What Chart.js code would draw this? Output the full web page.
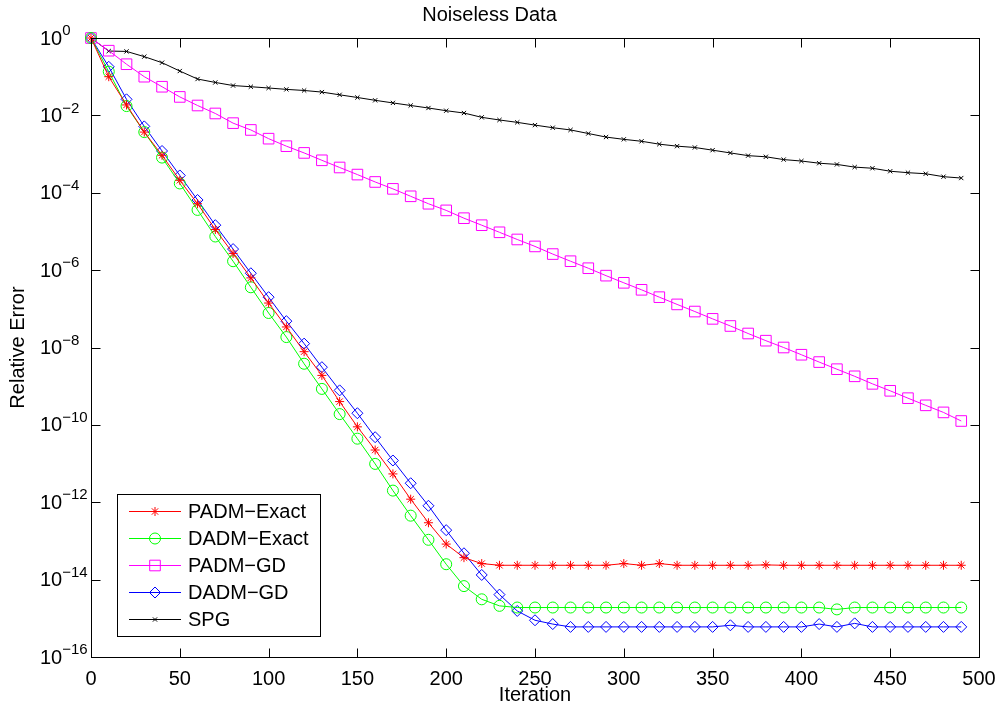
<!DOCTYPE html>
<html>
<head>
<meta charset="utf-8">
<title>Noiseless Data</title>
<script src="https://cdn.jsdelivr.net/npm/chart.js@4.4.1/dist/chart.umd.min.js"></script>
<style>
  body { margin: 0; background: #fff; }
  canvas { display: block; }
</style>
</head>
<body>
<canvas id="myChart" width="1001" height="708"></canvas>
<script>
// Datos (error relativo cada 10 iteraciones)
const iteraciones = [0, 10, 20, 30, 40, 50, 60, 70, 80, 90,
  100, 110, 120, 130, 140, 150, 160, 170, 180, 190,
  200, 210, 220, 230, 240, 250, 260, 270, 280, 290,
  300, 310, 320, 330, 340, 350, 360, 370, 380, 390,
  400, 410, 420, 430, 440, 450, 460, 470, 480, 490];

const padmExact = [1, 1.0e-1, 1.86e-2, 3.7e-3, 9.3e-4, 2.1e-4, 5.2e-5, 1.12e-5, 2.7e-6, 6.3e-7,
  1.41e-7, 3.4e-8, 7.8e-9, 1.9e-9, 4.0e-10, 8.9e-11, 2.24e-11, 5.4e-12, 1.2e-12, 2.95e-13,
  8.3e-14, 3.7e-14, 2.6e-14, 2.35e-14, 2.35e-14, 2.35e-14, 2.35e-14, 2.35e-14, 2.35e-14, 2.35e-14,
  2.6e-14, 2.35e-14, 2.6e-14, 2.35e-14, 2.35e-14, 2.35e-14, 2.35e-14, 2.35e-14, 2.4e-14, 2.35e-14,
  2.35e-14, 2.35e-14, 2.35e-14, 2.35e-14, 2.35e-14, 2.35e-14, 2.35e-14, 2.35e-14, 2.35e-14, 2.35e-14];

const dadmExact = [1, 1.35e-1, 1.74e-2, 3.7e-3, 8.1e-4, 1.74e-4, 3.6e-5, 7.4e-6, 1.7e-6, 3.6e-7,
  7.8e-8, 1.86e-8, 3.8e-9, 8.5e-10, 1.9e-10, 4.4e-11, 9.8e-12, 2.0e-12, 4.5e-13, 1.07e-13,
  2.5e-14, 6.8e-15, 3.1e-15, 2.1e-15, 1.9e-15, 1.9e-15, 1.9e-15, 1.9e-15, 1.9e-15, 1.9e-15,
  1.9e-15, 1.9e-15, 1.9e-15, 1.9e-15, 1.9e-15, 1.9e-15, 1.9e-15, 1.9e-15, 1.9e-15, 1.9e-15,
  1.9e-15, 1.9e-15, 1.7e-15, 1.9e-15, 1.9e-15, 1.9e-15, 1.9e-15, 1.9e-15, 1.9e-15, 1.9e-15];

const padmGd = [1, 4.7e-1, 2.1e-1, 1.0e-1, 5.5e-2, 3.0e-2, 1.8e-2, 1.12e-2, 6.3e-3, 4.2e-3,
  2.5e-3, 1.6e-3, 1.07e-3, 6.9e-4, 4.5e-4, 2.95e-4, 1.9e-4, 1.26e-4, 8.1e-5, 5.2e-5,
  3.5e-5, 2.2e-5, 1.45e-5, 9.5e-6, 6.2e-6, 4.1e-6, 2.6e-6, 1.7e-6, 1.12e-6, 7.2e-7,
  4.7e-7, 3.1e-7, 2.0e-7, 1.3e-7, 8.5e-8, 5.5e-8, 3.6e-8, 2.3e-8, 1.5e-8, 1.0e-8,
  6.5e-9, 4.2e-9, 2.75e-9, 1.8e-9, 1.15e-9, 7.6e-10, 4.9e-10, 3.2e-10, 2.1e-10, 1.26e-10];

const dadmGd = [1, 1.8e-1, 2.6e-2, 5.2e-3, 1.2e-3, 2.8e-4, 6.5e-5, 1.45e-5, 3.5e-6, 8.3e-7,
  2.0e-7, 4.8e-8, 1.26e-8, 3.1e-9, 7.8e-10, 2.0e-10, 4.8e-11, 1.2e-11, 3.1e-12, 8.1e-13,
  1.9e-13, 4.8e-14, 1.32e-14, 4.1e-15, 1.55e-15, 8.9e-16, 7.1e-16, 6.0e-16, 6.0e-16, 6.0e-16,
  6.0e-16, 6.0e-16, 6.0e-16, 6.0e-16, 6.0e-16, 6.0e-16, 6.6e-16, 6.0e-16, 6.0e-16, 6.0e-16,
  6.0e-16, 7.1e-16, 6.0e-16, 7.4e-16, 6.0e-16, 6.0e-16, 6.0e-16, 6.0e-16, 6.0e-16, 6.0e-16];

const spg = [1, 4.6e-1, 4.5e-1, 3.3e-1, 2.3e-1, 1.4e-1, 8.7e-2, 7.1e-2, 5.9e-2, 5.5e-2,
  5.1e-2, 4.7e-2, 4.4e-2, 4.0e-2, 3.4e-2, 2.9e-2, 2.45e-2, 2.1e-2, 1.8e-2, 1.55e-2,
  1.32e-2, 1.15e-2, 8.9e-3, 7.6e-3, 6.6e-3, 5.6e-3, 4.8e-3, 4.2e-3, 3.4e-3, 2.75e-3,
  2.4e-3, 2.14e-3, 1.8e-3, 1.6e-3, 1.48e-3, 1.26e-3, 1.07e-3, 9.1e-4, 8.5e-4, 7.2e-4,
  6.6e-4, 5.8e-4, 5.4e-4, 4.6e-4, 4.3e-4, 3.6e-4, 3.3e-4, 3.1e-4, 2.6e-4, 2.4e-4];

const xTicks = [0, 50, 100, 150, 200, 250, 300, 350, 400, 450, 500];
const yTicks = [1e-16, 1e-14, 1e-12, 1e-10, 1e-8, 1e-6, 1e-4, 1e-2, 1];

const FUENTE = "'Liberation Sans', Arial, Helvetica, sans-serif";
Chart.defaults.font.family = FUENTE;
Chart.defaults.color = "#000";

function serie(valores) {
  return valores.map((v, i) => ({ x: iteraciones[i], y: v }));
}

function dataset(label, valores, color, estilo, radio) {
  return {
    label: label,
    data: serie(valores),
    borderColor: color,
    borderWidth: 1,
    pointStyle: estilo,
    pointRadius: radio,
    pointBorderColor: color,
    pointBackgroundColor: "rgba(0,0,0,0)",
    pointBorderWidth: 1,
    tension: 0,
    clip: false,
  };
}

// Ejes al estilo MATLAB: caja, ticks hacia dentro, etiquetas 10^n y leyenda
const ejesMatlab = {
  id: "ejesMatlab",
  afterDraw(chart) {
    const ctx = chart.ctx;
    const area = chart.chartArea;
    const xs = chart.scales.x;
    const ys = chart.scales.y;
    const L = Math.round(area.left) + 0.5;
    const R = Math.round(area.right) + 0.5;
    const T = Math.round(area.top) + 0.5;
    const B = Math.round(area.bottom) + 0.5;

    ctx.save();
    ctx.strokeStyle = "#000";
    ctx.lineWidth = 1;
    ctx.beginPath();
    xTicks.forEach((v) => {
      const px = Math.round(xs.getPixelForValue(v)) + 0.5;
      ctx.moveTo(px, B); ctx.lineTo(px, B - 9);
      ctx.moveTo(px, T); ctx.lineTo(px, T + 9);
    });
    yTicks.forEach((v) => {
      const py = Math.round(ys.getPixelForValue(v)) + 0.5;
      ctx.moveTo(L, py); ctx.lineTo(L + 9, py);
      ctx.moveTo(R, py); ctx.lineTo(R - 9, py);
    });
    ctx.stroke();
    ctx.strokeRect(L, T, R - L, B - T);

    // etiquetas del eje y como 10 con exponente
    ctx.fillStyle = "#000";
    ctx.textBaseline = "middle";
    ctx.textAlign = "left";
    yTicks.forEach((v) => {
      const py = ys.getPixelForValue(v);
      const exp = Math.round(Math.log10(v));
      const txt = exp < 0 ? "\u2212" + (-exp) : String(exp);
      ctx.font = "20px " + FUENTE;
      ctx.fillText("10", 40, py + 1);
      const w = ctx.measureText("10").width;
      ctx.font = "15px " + FUENTE;
      ctx.fillText(txt, 40 + w, py - 7);
    });

    // leyenda
    const lx = 117.5, ly = 494.5, lw = 203, lh = 142;
    ctx.fillStyle = "#fff";
    ctx.fillRect(lx, ly, lw, lh);
    ctx.strokeRect(lx, ly, lw, lh);
    chart.data.datasets.forEach((ds, i) => {
      const y = 511 + i * 27;
      ctx.strokeStyle = ds.borderColor;
      ctx.lineWidth = 1;
      ctx.beginPath();
      ctx.moveTo(129, y + 0.5);
      ctx.lineTo(181, y + 0.5);
      ctx.stroke();
      ctx.fillStyle = "rgba(0,0,0,0)";
      Chart.helpers.drawPoint(ctx, {
        pointStyle: ds.pointStyle,
        radius: ds.pointRadius,
        borderWidth: 1,
        rotation: 0,
      }, 155, y + 0.5);
      ctx.fillStyle = "#000";
      ctx.font = "20px " + FUENTE;
      ctx.textAlign = "left";
      ctx.textBaseline = "middle";
      ctx.fillText(ds.label, 188, y + 1.5);
    });
    ctx.restore();
  },
};

const config = {
  type: "line",
  data: {
    datasets: [
      dataset("PADM\u2212Exact", padmExact, "#ff0000", "star", 4.5),
      dataset("DADM\u2212Exact", dadmExact, "#00ff00", "circle", 5.5),
      dataset("PADM\u2212GD", padmGd, "#ff00ff", "rect", 7.5),
      dataset("DADM\u2212GD", dadmGd, "#0000ff", "rectRot", 5.5),
      dataset("SPG", spg, "#000000", "crossRot", 3),
    ],
  },
  options: {
    responsive: false,
    animation: false,
    devicePixelRatio: 1,
    layout: { padding: { left: 0, right: 22, top: 0, bottom: 0 } },
    plugins: {
      legend: { display: false },
      tooltip: { enabled: false },
      title: {
        display: true,
        text: "Noiseless Data",
        color: "#000",
        font: { size: 20, weight: "normal" },
        padding: { top: 3.5, bottom: 10.5 },
      },
    },
    scales: {
      x: {
        type: "linear",
        min: 0,
        max: 500,
        afterBuildTicks: (s) => { s.ticks = xTicks.map((v) => ({ value: v })); },
        afterFit: (s) => { s.height = 51; s.paddingLeft = 0; s.paddingRight = 0; },
        ticks: { font: { size: 20 }, color: "#000", padding: 10, maxRotation: 0 },
        grid: { display: false, drawTicks: false },
        border: { display: false },
        title: {
          display: true,
          text: "Iteration",
          color: "#000",
          font: { size: 20 },
          padding: { top: 0, bottom: 1 },
        },
      },
      y: {
        type: "logarithmic",
        min: 1e-16,
        max: 1,
        afterBuildTicks: (s) => { s.ticks = yTicks.map((v) => ({ value: v })); },
        afterFit: (s) => { s.width = 91; },
        ticks: { display: false },
        grid: { display: false, drawTicks: false },
        border: { display: false },
        title: {
          display: true,
          text: "Relative Error",
          color: "#000",
          font: { size: 20 },
          padding: { top: 6, bottom: 0 },
        },
      },
    },
  },
  plugins: [ejesMatlab],
};

const myChart = new Chart(document.getElementById("myChart"), config);
</script>
</body>
</html>
